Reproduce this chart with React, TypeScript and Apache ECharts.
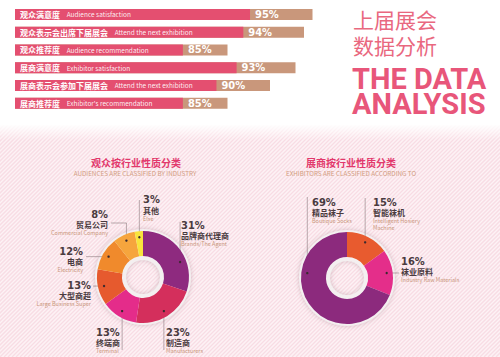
import React, { useEffect, useRef } from 'react';
import * as echarts from 'echarts';

// ---------- data ----------
const barCategoriesCn = ['观众满意度', '观众表示会出席下届展会', '观众推荐度', '展商满意度', '展商表示会参加下届展会', '展商推荐度'];
const barCategoriesEn = ['Audience satisfaction', 'Attend the next exhibition', 'Audience recommendation', 'Exhibitor satisfaction', 'Attend the next exhibition', "Exhibitor's recommendation"];
const barValues = [95, 94, 85, 93, 90, 85];

const audienceNamesCn = ['品牌商代理商', '制造商', '终端商', '大型商超', '电商', '贸易公司', '其他'];
const audienceNamesEn = ['Brands/The Agent', 'Manufacturers', 'Terminal', 'Large Business Super', 'Electricity', 'Commercial Company', 'Else'];
const audienceValues = [31, 23, 13, 13, 12, 8, 3];

const exhibitorNamesCn = ['智能袜机', '袜业原料', '精品袜子'];
const exhibitorNamesEn = ['Intelligent Hosiery\nMachine', 'Industry Raw Materials', 'Boutique Socks'];
const exhibitorValues = [15, 16, 69];

const titleCn = '上届展会\n数据分析';
const titleEn = 'THE DATA\nANALYSIS';

// ---------- styles ----------
const audienceColors = ['#8E2A7F', '#D42F5C', '#E42C8A', '#E65A2E', '#F08A2C', '#F6A53D', '#F8E43C'];
const exhibitorColors = ['#E85B2F', '#E42E8A', '#8C2A7D'];
const PINK = '#E44F70';
const TAN = '#C9977B';
const CJK = "'Noto Sans CJK SC', sans-serif";
const NARROW = "'Liberation Sans Narrow', 'DejaVu Sans Condensed', sans-serif";
const DARK = '#4A3B3F';
const LABELTAN = '#C9967B';

const AXIS_MIN = 60;
const AXIS_MAX = 100;
const PINK_SHARE = 0.79;

type P = [number, number];
const audCenter: P = [143, 277];
const exhCenter: P = [347, 278];
const R_IN = 21;
const R_OUT = 46;
const R_DOT = 40;

type LabelCfg = { x: number; y: number; align: 'left' | 'right'; angle?: number; line: (d: P) => P[] };

const audLayout: LabelCfg[] = [
  { x: 181, y: 219.5, align: 'left', angle: 68, line: (d) => [d, [d[0], 240], [d[0], 222]] },
  { x: 166, y: 326.5, align: 'left', line: (d) => [d, [d[0], 330], [d[0], 350]] },
  { x: 96, y: 326.5, align: 'left', line: (d) => [d, [d[0], 330], [d[0], 350]] },
  { x: 91, y: 279.5, align: 'right', line: (d) => [d, [98, d[1]], [93, d[1]]] },
  { x: 83, y: 245.5, align: 'right', line: (d) => [d, [95, d[1]], [86, d[1]]] },
  { x: 108, y: 208.5, align: 'right', line: (d) => [d, [d[0], 223], [111, 223]] },
  { x: 143, y: 194, align: 'left', line: (d) => [d, [d[0], 220], [d[0], 200]] },
];
const exhLayout: LabelCfg[] = [
  { x: 373, y: 196.5, align: 'left', line: (d) => [d, [d[0], 220], [d[0], 198]] },
  { x: 401, y: 255.5, align: 'left', line: (d) => [d, [393, d[1]], [399, d[1]]] },
  { x: 312, y: 196.5, align: 'left', angle: 277, line: (d) => [d, [d[0], 230], [d[0], 197]] },
];

function dotPositions(vals: number[], center: P, layout: LabelCfg[]): P[] {
  const tot = vals.reduce((a, b) => a + b, 0);
  let acc = 0;
  return vals.map((v, i) => {
    const mid = ((acc + v / 2) / tot) * 360;
    acc += v;
    const ang = layout[i].angle !== undefined ? (layout[i].angle as number) : mid;
    const t = (ang * Math.PI) / 180;
    return [center[0] + R_DOT * Math.sin(t), center[1] - R_DOT * Math.cos(t)] as P;
  });
}

const labelRich = {
  p: { fontFamily: NARROW, fontWeight: 'bold', fontSize: 11, lineHeight: 11, color: DARK },
  cn: { fontFamily: CJK, fontWeight: 'bold', fontSize: 8, lineHeight: 10, color: DARK },
  en: { fontFamily: CJK, fontSize: 5.5, lineHeight: 7, color: LABELTAN },
};

function makeDonut(
  vals: number[], namesCn: string[], namesEn: string[], colors: string[], center: P, layout: LabelCfg[],
) {
  const dots = dotPositions(vals, center, layout);
  const decor = {
    type: 'pie', silent: true, center, radius: [R_IN - 4, R_OUT + 2], startAngle: 90,
    label: { show: false }, labelLine: { show: false },
    itemStyle: { color: '#F4EFF0', shadowBlur: 5, shadowColor: 'rgba(140,100,110,0.35)' },
    data: [{ value: 1 }], z: 1,
  };
  const main = {
    type: 'pie', silent: true, center, radius: [R_IN, R_OUT], startAngle: 90, clockwise: true,
    avoidLabelOverlap: false, z: 3,
    itemStyle: { borderWidth: 0 },
    label: {
      show: true, position: 'outside',
      formatter: (p: any) => {
        const i = p.dataIndex;
        const en = namesEn[i].split('\n').map((s) => `{en|${s}}`).join('\n');
        return `{p|${vals[i]}%}\n{cn|${namesCn[i]}}\n${en}`;
      },
      rich: labelRich,
    },
    labelLine: { show: true, length: 5, length2: 5, smooth: false, lineStyle: { color: '#8B7B7E', width: 0.6 } },
    labelLayout: (params: any) => {
      const c = layout[params.dataIndex];
      return {
        x: c.x, y: c.y, align: c.align, verticalAlign: 'top',
        labelLinePoints: c.line(dots[params.dataIndex]),
      };
    },
    data: vals.map((v, i) => ({ value: v, name: namesCn[i], itemStyle: { color: colors[i] } })),
  };
  const dotEls = dots.map((d) => ({
    type: 'circle', shape: { cx: d[0], cy: d[1], r: 1.2 }, style: { fill: '#3A2A2E' }, z: 100, silent: true,
  }));
  return { series: [decor, main], dots: dotEls };
}

function buildOption() {
  const aud = makeDonut(audienceValues, audienceNamesCn, audienceNamesEn, audienceColors, audCenter, audLayout);
  const exh = makeDonut(exhibitorValues, exhibitorNamesCn, exhibitorNamesEn, exhibitorColors, exhCenter, exhLayout);

  const stripes: any[] = [];
  for (let x0 = -240; x0 <= 500; x0 += 4) {
    stripes.push({
      type: 'line', silent: true, z: -5,
      shape: { x1: x0, y1: 357, x2: x0 + 232, y2: 125 },
      style: { stroke: '#F8DCE4', lineWidth: 1.3 },
    });
  }

  const graphics: any[] = [
    { type: 'rect', silent: true, z: -6, shape: { x: 0, y: 125, width: 500, height: 232 }, style: { fill: '#FDF2F5' } },
    ...stripes,
    {
      type: 'rect', silent: true, z: -4, shape: { x: 0, y: 124, width: 500, height: 16 },
      style: {
        fill: new echarts.graphic.LinearGradient(0, 0, 0, 1, [
          { offset: 0, color: 'rgba(255,255,255,1)' },
          { offset: 1, color: 'rgba(255,255,255,0)' },
        ]),
      },
    },
    { type: 'text', x: 353, y: 32, style: { text: titleCn, fontFamily: CJK, fontSize: 21, lineHeight: 26, fill: '#E9687F', align: 'left', verticalAlign: 'middle' } },
    { type: 'text', x: 352, y: 91.5, style: { text: titleEn, fontFamily: 'Roboto, sans-serif', fontWeight: 'bold', fontSize: 29, lineHeight: 25, fill: '#E8567A', align: 'left', verticalAlign: 'middle' } },
    { type: 'text', x: 136, y: 162, style: { text: '观众按行业性质分类', fontFamily: CJK, fontWeight: 'bold', fontSize: 10, fill: '#E2386C', align: 'center', verticalAlign: 'middle' } },
    { type: 'text', x: 135, y: 173, style: { text: 'AUDIENCES ARE CLASSIFIED BY INDUSTRY', fontFamily: CJK, fontSize: 6.3, fill: '#D29C80', align: 'center', verticalAlign: 'middle' } },
    { type: 'text', x: 351, y: 162, style: { text: '展商按行业性质分类', fontFamily: CJK, fontWeight: 'bold', fontSize: 10, fill: '#E2386C', align: 'center', verticalAlign: 'middle' } },
    { type: 'text', x: 351, y: 173, style: { text: 'EXHIBITORS ARE CLASSIFIED ACCORDING TO', fontFamily: CJK, fontSize: 6.3, fill: '#D29C80', align: 'center', verticalAlign: 'middle' } },
    ...aud.dots,
    ...exh.dots,
  ];

  return {
    animation: false,
    backgroundColor: '#FFFFFF',
    graphic: { elements: graphics },
    grid: { left: 15, top: 5.6, width: (AXIS_MAX - AXIS_MIN) * 8.5, height: 106.5, containLabel: false },
    xAxis: { type: 'value', min: AXIS_MIN, max: AXIS_MAX, show: false },
    yAxis: {
      type: 'category', inverse: true, data: barCategoriesCn, z: 10,
      axisLine: { show: false }, axisTick: { show: false }, splitLine: { show: false },
      axisLabel: {
        inside: true, margin: 5, align: 'left',
        formatter: (value: string, index: number) => `{cn|${value}}  {en|${barCategoriesEn[index]}}`,
        rich: {
          cn: { fontFamily: CJK, fontWeight: 'bold', fontSize: 8, color: '#FFFFFF' },
          en: { fontFamily: CJK, fontSize: 6.5, color: 'rgba(255,255,255,0.92)' },
        },
      },
    },
    series: [
      { type: 'bar', silent: true, barWidth: 11, barGap: '-100%', z: 2, itemStyle: { color: TAN }, data: barValues },
      {
        type: 'bar', silent: true, barWidth: 11, barGap: '-100%', z: 3, itemStyle: { color: PINK },
        data: barValues.map((v) => AXIS_MIN + (v - AXIS_MIN) * PINK_SHARE),
        label: {
          show: true, position: 'right', distance: 5,
          formatter: (p: any) => `${barValues[p.dataIndex]}%`,
          fontFamily: NARROW, fontWeight: 'bold', fontSize: 11, color: '#FFFFFF',
        },
      },
      ...aud.series,
      ...exh.series,
    ],
  };
}

export default function App() {
  const ref = useRef<HTMLDivElement>(null);
  useEffect(() => {
    if (!ref.current) return;
    const chart = echarts.init(ref.current, null, { renderer: 'svg', width: 500, height: 357 });
    chart.setOption(buildOption() as any);
    return () => chart.dispose();
  }, []);
  return <div ref={ref} style={{ position: 'fixed', left: 0, top: 0, width: 500, height: 357 }} />;
}
